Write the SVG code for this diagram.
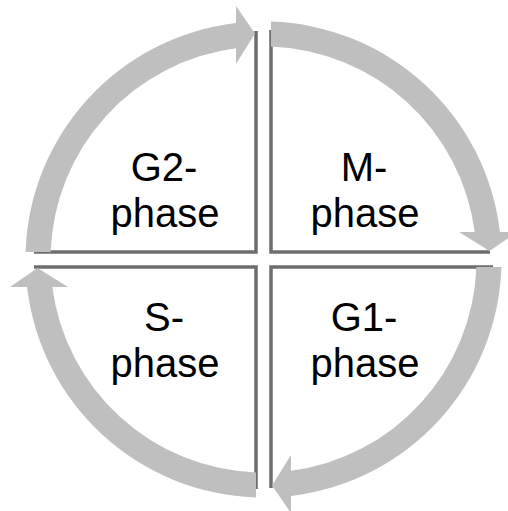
<svg xmlns="http://www.w3.org/2000/svg" xmlns:xlink="http://www.w3.org/1999/xlink" width="508" height="511" viewBox="0 0 508 511">
<style>
.frame{fill:none;stroke:#6e6e6e;stroke-width:3.5;stroke-linejoin:miter}
.arc{fill:#bfbfbf}
.lbl{font-family:"Liberation Sans",Arial,sans-serif;font-size:40px;fill:#000;text-anchor:middle}
</style>
<defs>
<path id="arrow" d="M 25.6 252 A 238 238 0 0 1 236 23.1 L 236 6 L 255 33.5 L 236 64 L 236 48.3 A 213 213 0 0 0 50.6 252 Z"/>
</defs>
<rect width="508" height="511" fill="#fff"/>
<g id="node-g2">
<polyline class="frame" points="256,31 256,252 34,252"/>
<text class="lbl"><tspan x="164" y="181">G2-</tspan><tspan x="165" y="227">phase</tspan></text>
</g>
<g id="node-m">
<polyline class="frame" points="271,30 271,252 490,252"/>
<text class="lbl"><tspan x="364" y="181">M-</tspan><tspan x="365" y="227">phase</tspan></text>
</g>
<g id="node-s">
<polyline class="frame" points="256,489 256,267 34,267"/>
<text class="lbl"><tspan x="164" y="331">S-</tspan><tspan x="165" y="377">phase</tspan></text>
</g>
<g id="node-g1">
<polyline class="frame" points="271,488 271,267 493,267"/>
<text class="lbl"><tspan x="364" y="331">G1-</tspan><tspan x="365" y="377">phase</tspan></text>
</g>
<g id="connectors">
<use xlink:href="#arrow" class="arc"/>
<use xlink:href="#arrow" class="arc" transform="rotate(90 263.5 259.5)"/>
<use xlink:href="#arrow" class="arc" transform="rotate(180 263.5 259.5)"/>
<use xlink:href="#arrow" class="arc" transform="rotate(270 263.5 259.5)"/>
</g>
</svg>
